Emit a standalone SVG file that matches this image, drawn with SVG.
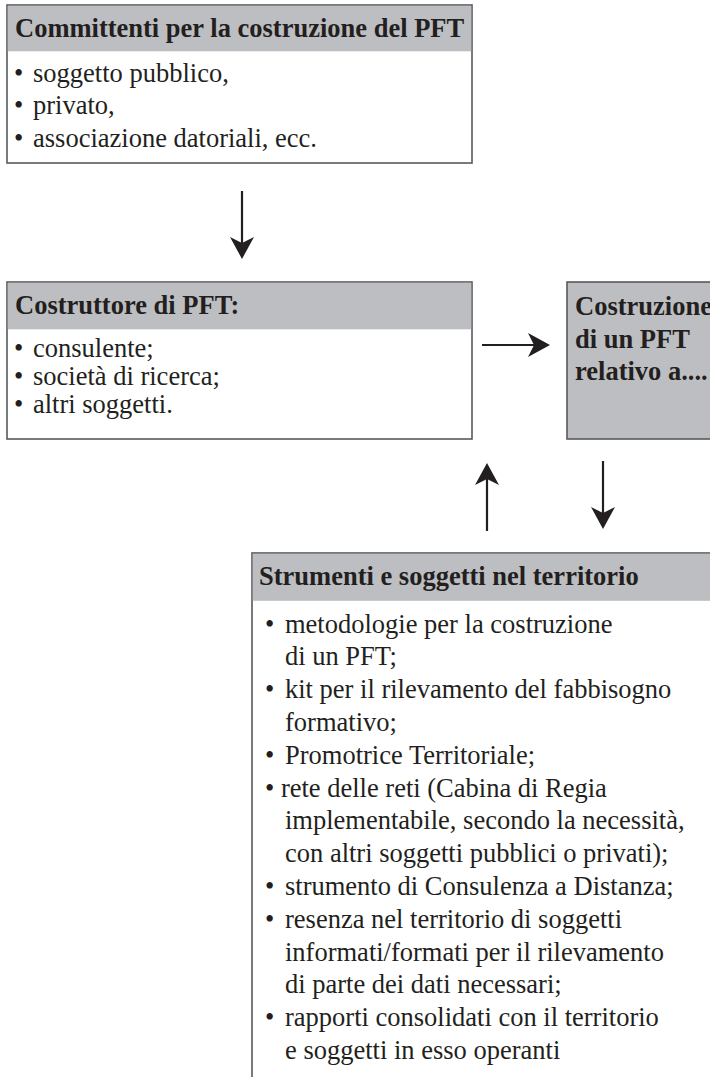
<svg xmlns="http://www.w3.org/2000/svg" width="710" height="1077" viewBox="0 0 710 1077">
<defs>
<style>
.box{fill:#ffffff;stroke:#58595b;stroke-width:1.6}
.hdr{fill:#bdbec1;stroke:none}
.grey{fill:#bdbec1;stroke:#58595b;stroke-width:1.6}
.h{font-family:"Liberation Serif","Times New Roman",serif;font-weight:bold;font-size:26.5px;fill:#231f20}
.t{font-family:"Liberation Serif","Times New Roman",serif;font-size:26.5px;fill:#231f20}
.conn{stroke:#231f20;stroke-width:2.2;fill:none}
</style>
<marker id="ah" markerUnits="userSpaceOnUse" markerWidth="24" markerHeight="26" viewBox="0 0 24 26" refX="6" refY="12" orient="auto">
<path d="M0,0 L22,12 L0,24 L6,12 Z" fill="#231f20"/>
</marker>
</defs>
<rect width="710" height="1077" fill="#ffffff"/>

<g id="committenti">
<rect class="box" x="7" y="5" width="465" height="158"/>
<rect class="hdr" x="7.8" y="5.8" width="463.4" height="45.5"/>
<text class="h" x="15" y="37">Committenti per la costruzione del PFT</text>
<text class="t" x="14" y="82">•<tspan x="33">soggetto pubblico,</tspan></text>
<text class="t" x="14" y="114">•<tspan x="33">privato,</tspan></text>
<text class="t" x="14" y="147">•<tspan x="33">associazione datoriali, ecc.</tspan></text>
</g>

<g id="costruttore">
<rect class="box" x="7" y="282" width="465" height="157"/>
<rect class="hdr" x="7.8" y="282.8" width="463.4" height="46.5"/>
<text class="h" x="15" y="314">Costruttore di PFT:</text>
<text class="t" x="14" y="357">•<tspan x="33">consulente;</tspan></text>
<text class="t" x="14" y="385">•<tspan x="33">società di ricerca;</tspan></text>
<text class="t" x="14" y="413">•<tspan x="33">altri soggetti.</tspan></text>
</g>

<g id="costruzione">
<rect class="grey" x="567" y="282" width="170" height="157"/>
<text class="h" x="575" y="315">Costruzione</text>
<text class="h" x="575" y="348">di un PFT</text>
<text class="h" x="575" y="380">relativo a....</text>
</g>

<g id="strumenti">
<rect class="box" x="252" y="553" width="480" height="540"/>
<rect class="hdr" x="252.8" y="553.8" width="478" height="47"/>
<text class="h" x="259" y="585">Strumenti e soggetti nel territorio</text>
<text class="t" x="265" y="632.5">•<tspan x="285">metodologie per la costruzione</tspan></text>
<text class="t" x="285" y="665.3">di un PFT;</text>
<text class="t" x="265" y="698.1">•<tspan x="285">kit per il rilevamento del fabbisogno</tspan></text>
<text class="t" x="285" y="730.9">formativo;</text>
<text class="t" x="265" y="763.7">•<tspan x="285">Promotrice Territoriale;</tspan></text>
<text class="t" x="265" y="796.5">• rete delle reti (Cabina di Regia</text>
<text class="t" x="285" y="829.3">implementabile, secondo la necessità,</text>
<text class="t" x="285" y="862.1">con altri soggetti pubblici o privati);</text>
<text class="t" x="265" y="894.9">•<tspan x="285">strumento di Consulenza a Distanza;</tspan></text>
<text class="t" x="265" y="927.7">•<tspan x="285">resenza nel territorio di soggetti</tspan></text>
<text class="t" x="285" y="960.5">informati/formati per il rilevamento</text>
<text class="t" x="285" y="993.3">di parte dei dati necessari;</text>
<text class="t" x="265" y="1026.1">•<tspan x="285">rapporti consolidati con il territorio</tspan></text>
<text class="t" x="285" y="1058.9">e soggetti in esso operanti</text>
</g>

<g id="connectors">
<line class="conn" x1="242" y1="191" x2="242" y2="243" marker-end="url(#ah)"/>
<line class="conn" x1="482" y1="345" x2="534" y2="345" marker-end="url(#ah)"/>
<line class="conn" x1="487" y1="531" x2="487" y2="479" marker-end="url(#ah)"/>
<line class="conn" x1="603" y1="461" x2="603" y2="513" marker-end="url(#ah)"/>
</g>
</svg>
